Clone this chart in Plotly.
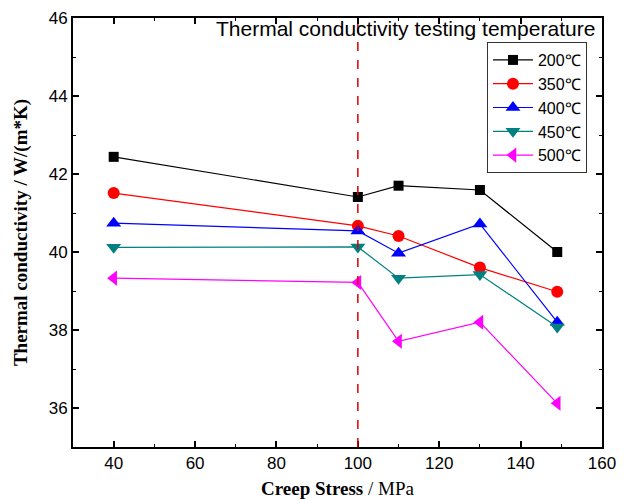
import plotly.graph_objects as go

stress = [40, 100, 110, 130, 149]
series_names = ["200℃", "350℃", "400℃", "450℃", "500℃"]
k200 = [42.44, 41.41, 41.70, 41.59, 40.00]
k350 = [41.51, 40.67, 40.41, 39.60, 38.98]
k400 = [40.74, 40.54, 39.97, 40.72, 38.20]
k450 = [40.12, 40.13, 39.33, 39.42, 38.08]
k500 = [39.33, 39.22, 37.71, 38.20, 36.12]
series_values = [k200, k350, k400, k450, k500]

colors = ["#000000", "#ff0000", "#0000ff", "#008080", "#ff00ff"]
symbols = ["square", "circle", "triangle-up", "triangle-down", "triangle-left"]
sizes = [10, 12, 13, 13, 13]

fig = go.Figure()
for name, vals, c, s, sz in zip(series_names, series_values, colors, symbols, sizes):
    fig.add_trace(go.Scatter(
        x=stress, y=vals, name=name, mode="lines+markers",
        line=dict(color=c, width=1.2),
        marker=dict(symbol=s, size=sz, color=c, line=dict(width=0)),
    ))

fig.add_shape(type="line", x0=100, x1=100, y0=0, y1=1, xref="x", yref="paper",
              line=dict(color="#dd0000", width=1.5, dash="dash"))

fig.add_annotation(x=1, y=1, xref="paper", yref="paper", xanchor="right", yanchor="top",
                   text="Thermal conductivity testing temperature", showarrow=False,
                   font=dict(family="Liberation Sans, Arial", size=21, color="black"),
                   xshift=-5, yshift=3)

axis_common = dict(showline=True, linecolor="black", linewidth=2, mirror="ticks",
                   ticks="inside", ticklen=6, tickwidth=1.5, tickcolor="black",
                   showgrid=False, zeroline=False, automargin=False,
                   tickfont=dict(family="Liberation Sans, Arial", size=17, color="black"))

fig.update_xaxes(range=[30, 160], dtick=20, tick0=40,
                 minor=dict(dtick=10, ticks="inside", ticklen=3, tickwidth=1.2, tickcolor="black"),
                 title=dict(text="<b>Creep Stress</b> / MPa", standoff=10,
                            font=dict(family="Liberation Serif, Times New Roman", size=19, color="black")),
                 **axis_common)
fig.update_yaxes(range=[35, 46], dtick=2, tick0=36,
                 minor=dict(dtick=1, ticks="inside", ticklen=3, tickwidth=1.2, tickcolor="black"),
                 title=dict(text="<b>Thermal conductivity / W/(m*K)</b>", standoff=16,
                            font=dict(family="Liberation Serif, Times New Roman", size=19, color="black")),
                 **axis_common)

fig.update_layout(
    width=622, height=491,
    margin=dict(l=65, r=28, t=10, b=52),
    plot_bgcolor="white", paper_bgcolor="white",
    showlegend=True,
    legend=dict(x=0.9716, y=0.944, xanchor="right", yanchor="top",
                bgcolor="white", bordercolor="#333333", borderwidth=1,
                font=dict(family="Liberation Sans, Arial", size=16, color="black"),
                itemwidth=40, tracegroupgap=0),
)

fig.write_html("out.html")
